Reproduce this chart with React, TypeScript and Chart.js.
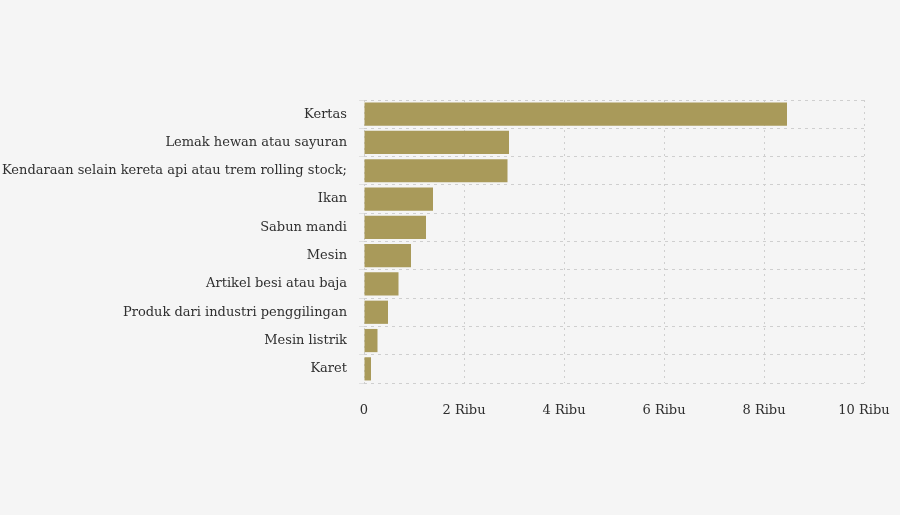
import React, { useRef, useEffect } from 'react';
import { Chart, registerables, type ChartConfiguration } from 'chart.js';

Chart.register(...registerables);

// Categories (top to bottom) and values in units
const categories = [
  'Kertas',
  'Lemak hewan atau sayuran',
  'Kendaraan selain kereta api atau trem rolling stock;',
  'Ikan',
  'Sabun mandi',
  'Mesin',
  'Artikel besi atau baja',
  'Produk dari industri penggilingan',
  'Mesin listrik',
  'Karet',
];
const values = [8460, 2900, 2870, 1380, 1240, 940, 690, 480, 270, 140];
const xTicks = [0, 2000, 4000, 6000, 8000, 10000];

const BAR_COLOR = '#a99a5a';
const GRID_COLOR = '#cfcfcf';
const TEXT_COLOR = '#2f2f2f';
const FONT = '"DejaVu Serif", "Liberation Serif", serif';

const App: React.FC = () => {
  const canvasRef = useRef<HTMLCanvasElement>(null);
  const chartRef = useRef<Chart | null>(null);

  useEffect(() => {
    document.body.style.margin = '0';
    document.body.style.background = '#f5f5f5';
    if (!canvasRef.current) return;
    if (chartRef.current) {
      chartRef.current.destroy();
      chartRef.current = null;
    }

    const config: ChartConfiguration<'bar'> = {
      type: 'bar',
      data: {
        labels: categories,
        datasets: [
          {
            data: values,
            backgroundColor: BAR_COLOR,
            borderWidth: 0,
            categoryPercentage: 1,
            barPercentage: 0.82,
          },
        ],
      },
      options: {
        indexAxis: 'y',
        responsive: false,
        animation: false,
        layout: { padding: { top: 100, right: 36, left: 0, bottom: 0 } },
        plugins: {
          legend: { display: false },
          tooltip: { enabled: false },
        },
        scales: {
          x: {
            min: 0,
            max: 10000,
            afterBuildTicks: (scale) => {
              scale.ticks = xTicks.map((v) => ({ value: v }));
            },
            afterFit: (scale) => {
              scale.height = 132;
              scale.paddingLeft = 0;
              scale.paddingRight = 0;
            },
            grid: {
              color: GRID_COLOR,
              lineWidth: 1,
              drawTicks: false,
            },
            border: { display: false, dash: [2, 4] },
            ticks: {
              color: TEXT_COLOR,
              padding: 20,
              font: { family: FONT, size: 13 },
              callback: (v) => (Number(v) === 0 ? '0' : `${Number(v) / 1000} Ribu`),
            },
          },
          y: {
            afterFit: (scale) => {
              scale.width = 364;
            },
            grid: {
              color: GRID_COLOR,
              lineWidth: 1,
              offset: true,
              drawTicks: true,
              tickLength: 5,
              tickColor: '#e0e0e0',
            },
            border: { display: false, dash: [3, 4] },
            ticks: {
              color: TEXT_COLOR,
              padding: 12,
              font: { family: FONT, size: 13 },
            },
          },
        },
      },
    };

    chartRef.current = new Chart(canvasRef.current, config);

    return () => {
      if (chartRef.current) {
        chartRef.current.destroy();
        chartRef.current = null;
      }
    };
  }, []);

  return (
    <div style={{ width: 900, height: 515, background: '#f5f5f5' }}>
      <canvas ref={canvasRef} width={900} height={515} style={{ display: 'block' }} />
    </div>
  );
};

export default App;
